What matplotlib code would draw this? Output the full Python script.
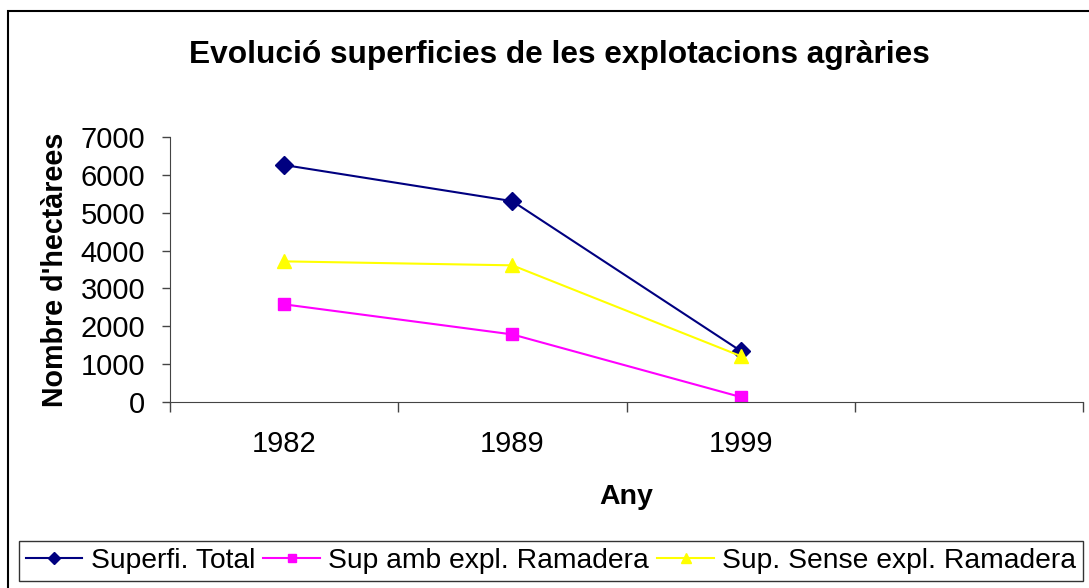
import matplotlib.pyplot as plt
from matplotlib.patches import Rectangle

# Data
years = ["1982", "1989", "1999"]
total = [6260, 5305, 1350]
amb_ramadera = [2580, 1785, 133]
sense_ramadera = [3715, 3610, 1215]

plt.rcParams["font.family"] = ["Liberation Sans", "DejaVu Sans"]

fig = plt.figure(figsize=(10.89, 5.88), dpi=100)
ax = fig.add_axes([170 / 1089, 1 - 402 / 588, (1083 - 170) / 1089, (402 - 137) / 588])

x = list(range(len(years)))
ax.plot(x, total, color="#000080", marker="D", markersize=9, linewidth=1.5,
        label="Superfi. Total")
ax.plot(x, amb_ramadera, color="#FF00FF", marker="s", markersize=9, linewidth=1.5,
        label="Sup amb expl. Ramadera")
ax.plot(x, sense_ramadera, color="#FFFF00", marker="^", markersize=10, linewidth=1.5,
        label="Sup. Sense expl. Ramadera")

# Excel-like category axis: 4 slots, the last one empty
ax.set_xlim(-0.5, 3.5)
ax.set_ylim(0, 7000)
ax.set_xticks([-0.5, 0.5, 1.5, 2.5, 3.5])
ax.set_xticklabels([])
ax.set_xticks(x, minor=True)
ax.set_xticklabels(years, minor=True)
ax.tick_params(axis="x", which="major", direction="out", length=7, width=1, color="#444444")
ax.tick_params(axis="x", which="minor", length=0, labelsize=21, pad=20)
ax.set_yticks(range(0, 7001, 1000))
ax.tick_params(axis="y", direction="out", length=6, width=1, color="#444444",
               labelsize=21, pad=12)

for side in ["top", "right"]:
    ax.spines[side].set_visible(False)
ax.spines["left"].set_color("#444444")
ax.spines["bottom"].set_color("#444444")

ax.set_xlabel("Any", fontsize=20.5, fontweight="bold", labelpad=19)
ax.set_ylabel("Nombre d'hectàrees", fontsize=20.6, fontweight="bold", labelpad=8)

fig.text(0.514, 1 - 55 / 588, "Evolució superficies de les explotacions agràries",
         fontsize=22.8, fontweight="bold", ha="center", va="center")

# outer chart border
fig.patches.append(Rectangle((8 / 1089, -0.01), 1.02, 1 - 11 / 588 + 0.01,
                             transform=fig.transFigure, fill=False,
                             edgecolor="black", linewidth=1.5))

leg = fig.legend(loc="center", bbox_to_anchor=(551 / 1089, 1 - 561 / 588), ncol=3,
                 fontsize=20.3, frameon=True, fancybox=False, edgecolor="black",
                 handlelength=2.0, handletextpad=0.3, columnspacing=0.3,
                 borderpad=0.25, borderaxespad=0, markerscale=0.7)
leg.get_frame().set_linewidth(1.0)

fig.savefig("out.png", dpi=100)
